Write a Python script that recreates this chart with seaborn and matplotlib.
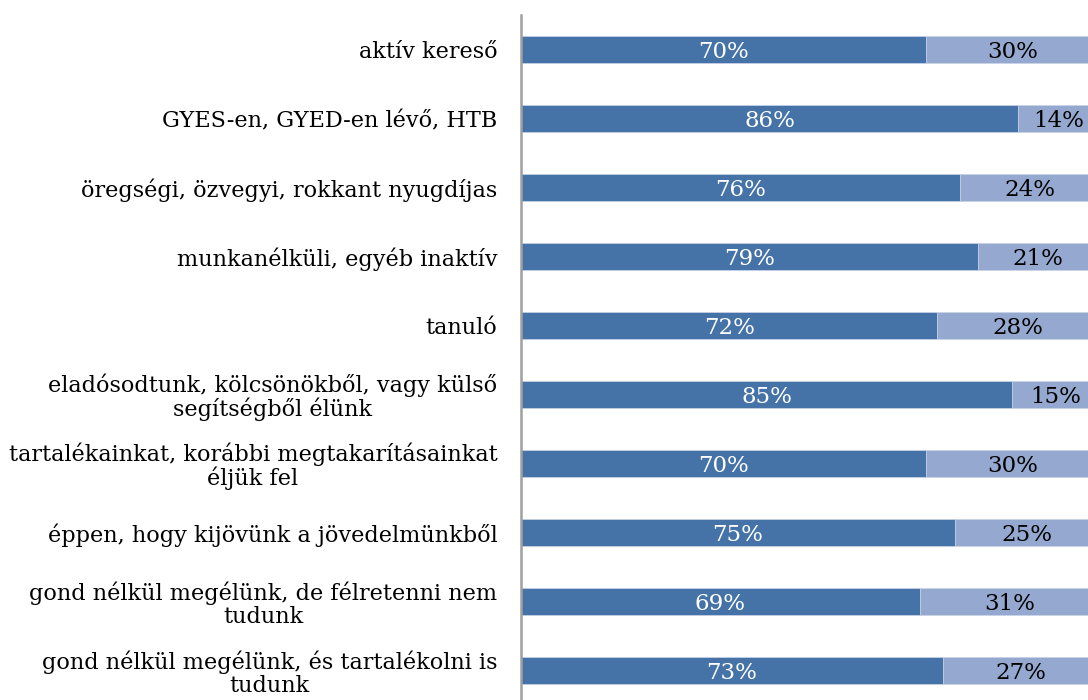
import matplotlib
matplotlib.use("Agg")
import matplotlib.pyplot as plt
import pandas as pd
import seaborn as sns

# adatok (felülről lefelé)
kategoriak = [
    "aktív kereső",
    "GYES-en, GYED-en lévő, HTB",
    "öregségi, özvegyi, rokkant nyugdíjas",
    "munkanélküli, egyéb inaktív",
    "tanuló",
    "eladósodtunk, kölcsönökből, vagy külső\nsegítségből élünk",
    "tartalékainkat, korábbi megtakarításainkat\néljük fel",
    "éppen, hogy kijövünk a jövedelmünkből",
    "gond nélkül megélünk, de félretenni nem\ntudunk",
    "gond nélkül megélünk, és tartalékolni is\ntudunk",
]
sotet = [70, 86, 76, 79, 72, 85, 70, 75, 69, 73]
vilagos = [30, 14, 24, 21, 28, 15, 30, 25, 31, 27]

sns.set_style("white")
plt.rcParams["font.family"] = ["DejaVu Serif"]

df = pd.DataFrame({"kat": kategoriak, "sotet": sotet, "vilagos": vilagos})
df["ossz"] = df["sotet"] + df["vilagos"]

fig = plt.figure(figsize=(10.88, 7.0), dpi=100)
ax = fig.add_axes([521 / 1088, -5 / 700, 578 / 1088, 690 / 700])

# világos rész: a teljes sáv, erre jön a sötét
sns.barplot(data=df, y="kat", x="ossz", color="#95A9D0", saturation=1,
            width=0.39, orient="h", ax=ax)
sns.barplot(data=df, y="kat", x="sotet", color="#4573A7", saturation=1,
            width=0.39, orient="h", ax=ax)

for p in ax.patches:
    p.set_edgecolor("#C9D4E6")
    p.set_linewidth(0.6)

n = len(kategoriak)
for i in range(n):
    ax.text(sotet[i] / 2, i + 0.03, f"{sotet[i]}%", color="white", ha="center",
            va="center", fontsize=16.5)
    ax.text(sotet[i] + vilagos[i] / 2, i + 0.03, f"{vilagos[i]}%", color="black",
            ha="center", va="center", fontsize=16.5)

ax.set_xlim(0, 100)
ax.set_ylim(n - 0.5, -0.5)
ax.set_xlabel("")
ax.set_ylabel("")
ax.set_xticks([])

for s in ["top", "right", "bottom"]:
    ax.spines[s].set_visible(False)
ax.spines["left"].set_color("#A0A0A0")
ax.spines["left"].set_linewidth(1.8)

ax.set_yticks(range(n))
ax.set_yticklabels(kategoriak, fontsize=16.1, color="black",
                   multialignment="center", linespacing=1.05)
ax.set_yticks([i - 0.5 for i in range(n + 1)], minor=True)
ax.tick_params(axis="y", which="major", length=0, pad=17)
ax.tick_params(axis="y", which="minor", length=6, width=1.8, color="#A0A0A0",
               direction="out")

fig.savefig("out.png", dpi=100)
